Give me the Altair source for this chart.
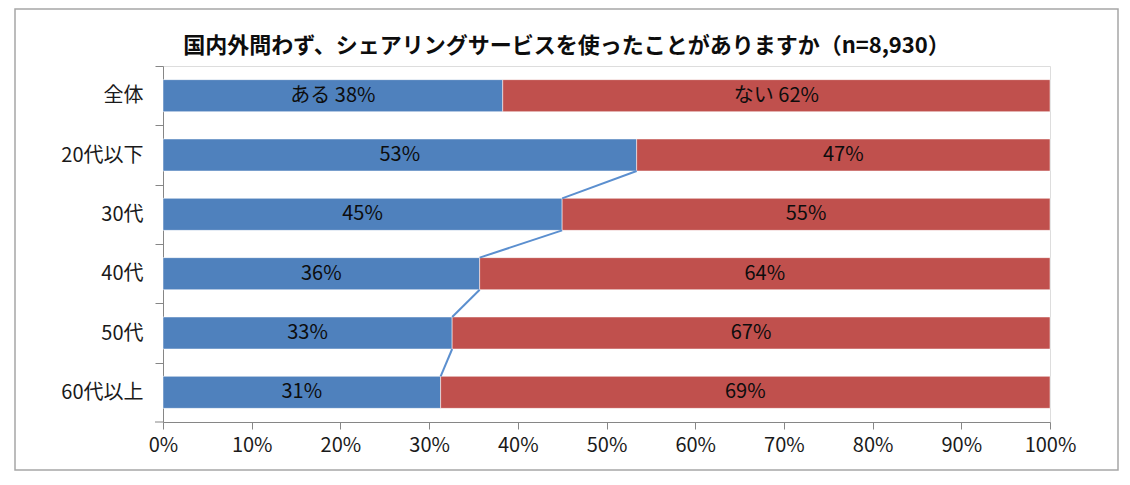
import altair as alt
import pandas as pd

categories = ["全体", "20代以下", "30代", "40代", "50代", "60代以上"]
yes_values = [38.3, 53.4, 45.0, 35.7, 32.6, 31.3]
no_values = [61.7, 46.6, 55.0, 64.3, 67.4, 68.7]
yes_labels = ["ある 38%", "53%", "45%", "36%", "33%", "31%"]
no_labels = ["ない 62%", "47%", "55%", "64%", "67%", "69%"]
x_ticks = [0, 10, 20, 30, 40, 50, 60, 70, 80, 90, 100]
title_text = "国内外問わず、シェアリングサービスを使ったことがありますか（n=8,930）"

FONT = "Noto Sans CJK JP"
BLUE = "#4F81BD"
RED = "#C0504D"
GRAY = "#868686"

rows = []
for c, y, n, yl, nl in zip(categories, yes_values, no_values, yes_labels, no_labels):
    rows.append({"cat": c, "answer": "ある", "start": 0, "end": y, "label": yl, "mid": y / 2})
    rows.append({"cat": c, "answer": "ない", "start": y, "end": y + n, "label": nl, "mid": y + n / 2})
bars_df = pd.DataFrame(rows)

conn_rows = []
for i in range(1, len(categories) - 1):
    conn_rows.append({"c1": categories[i], "c2": categories[i + 1],
                      "x1": yes_values[i], "x2": yes_values[i + 1]})
conn_df = pd.DataFrame(conn_rows)

yscale = alt.Scale(domain=categories, paddingInner=0.46, paddingOuter=0.23)
xscale = alt.Scale(domain=[0, 100], nice=False)

y_enc = alt.Y("cat:N", scale=yscale, sort=categories,
              axis=alt.Axis(title=None, bandPosition=0, tickOffset=-13.6, labelOffset=13.6,
                            tickSize=8, labelPadding=12,
                            labelFontSize=20, labelFont=FONT, labelColor="#1a1a1a",
                            domainColor=GRAY, tickColor=GRAY, labelAlign="right"))
x_enc = alt.X("start:Q", scale=xscale,
              axis=alt.Axis(title=None, values=x_ticks, labelExpr="datum.value + '%'",
                            tickSize=7, labelPadding=6, labelFontSize=20, labelFont=FONT,
                            labelColor="#1a1a1a", domainColor=GRAY, tickColor=GRAY,
                            grid=False, labelFlush=False))

bars = alt.Chart(bars_df).mark_bar(stroke="white", strokeWidth=1, strokeOpacity=0.5).encode(
    y=y_enc,
    x=x_enc,
    x2="end:Q",
    color=alt.Color("answer:N", scale=alt.Scale(domain=["ある", "ない"], range=[BLUE, RED]), legend=None),
)

texts = alt.Chart(bars_df).mark_text(font=FONT, fontSize=20, color="#0d0d0d", baseline="middle").encode(
    y=alt.Y("cat:N", scale=yscale, sort=categories),
    x=alt.X("mid:Q", scale=xscale),
    text="label:N",
)

connectors = alt.Chart(conn_df).mark_rule(color="#5B8FCF", strokeWidth=2, yOffset=16, y2Offset=-16).encode(
    y=alt.Y("c1:N", scale=yscale, sort=categories),
    y2="c2:N",
    x=alt.X("x1:Q", scale=xscale),
    x2="x2:Q",
)

bottom_tick = alt.Chart(pd.DataFrame({"a": [0]})).mark_rule(color=GRAY).encode(
    x=alt.value(-8), x2=alt.value(0), y=alt.value(356), y2=alt.value(356)
)

frame = alt.Chart(pd.DataFrame({"a": [0]})).mark_rect(fill=None, stroke="#A6A6A6", strokeWidth=1.5).encode(
    x=alt.value(-148), x2=alt.value(955), y=alt.value(-57), y2=alt.value(404)
)

chart = alt.layer(frame, bars, connectors, texts, bottom_tick).properties(
    width=887,
    height=356,
    autosize=alt.AutoSizeParams(type="none"),
    padding={"left": 155, "top": 58, "right": 72, "bottom": 56},
    title=alt.TitleParams(text=title_text, font=FONT, fontSize=22, fontWeight="bold",
                          color="#0d0d0d", anchor="middle", dx=-40, offset=0, dy=60,
                          baseline="middle", frame="group"),
).configure_view(stroke=None).configure(background="white")

chart.save("out.html", embed_options={"renderer": "svg", "actions": False})
